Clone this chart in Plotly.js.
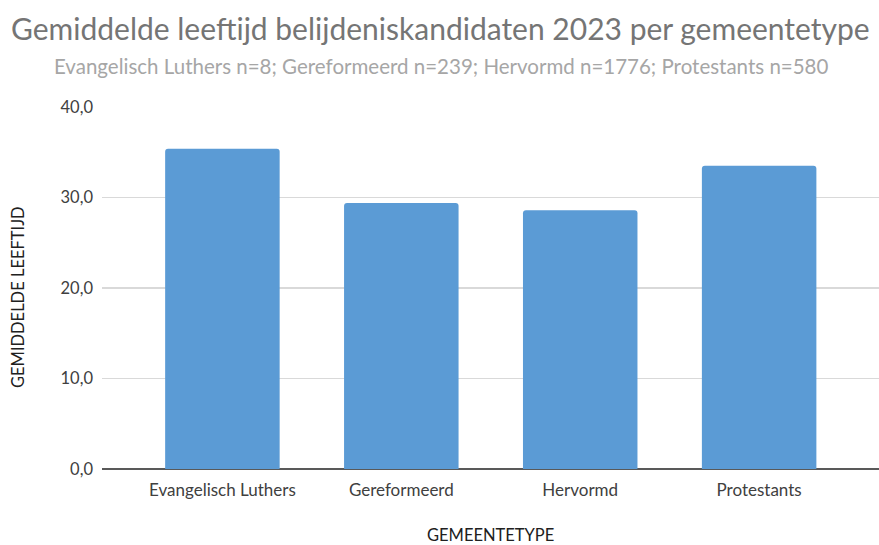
<!DOCTYPE html>
<html>
<head>
<meta charset="utf-8">
<script src="https://cdn.plot.ly/plotly-3.0.1.min.js"></script>
<style>html,body{margin:0;padding:0;background:#fff;}#chart{width:879px;height:545px;}</style>
</head>
<body>
<div id="chart"></div>
<script>
const categories = ["Evangelisch Luthers", "Gereformeerd", "Hervormd", "Protestants"];
const meanAge = [35.4, 29.4, 28.6, 33.5];
const yTicks = [0, 10, 20, 30, 40];
const titleText = "Gemiddelde leeftijd belijdeniskandidaten 2023 per gemeentetype";
const subtitleText = "Evangelisch Luthers n=8; Gereformeerd n=239; Hervormd n=1776; Protestants n=580";
const xTitle = "GEMEENTETYPE";
const yTitle = "GEMIDDELDE LEEFTIJD";

const FONT = "Lato, 'Open Sans', sans-serif";

const trace = {
  type: "bar",
  x: [0, 1, 2, 3],
  y: meanAge,
  width: 0.64,
  marker: {color: "#5b9bd5", cornerradius: 3, line: {width: 0}},
  hoverinfo: "skip"
};

const layout = {
  width: 879, height: 545,
  margin: {l: 102, r: 0, t: 107, b: 76, pad: 0},
  paper_bgcolor: "#ffffff",
  plot_bgcolor: "#ffffff",
  separators: ",.",
  showlegend: false,
  font: {family: FONT, color: "#404040"},
  xaxis: {
    range: [-0.673, 3.67],
    tickmode: "array",
    tickvals: [0, 1, 2, 3],
    ticktext: categories,
    showgrid: false,
    zeroline: false,
    showline: false,
    ticks: "",
    ticklabelstandoff: 9,
    tickfont: {family: FONT, size: 17, color: "#404040"},
    fixedrange: true
  },
  yaxis: {
    range: [0, 40],
    tickmode: "array",
    tickvals: yTicks,
    tickformat: ".1f",
    showgrid: true,
    gridcolor: "#d9d9d9",
    gridwidth: 1.3,
    zeroline: true,
    zerolinecolor: "#595959",
    zerolinewidth: 1.5,
    showline: false,
    ticks: "",
    ticklabelstandoff: 8,
    tickfont: {family: FONT, size: 16.5, color: "#404040"},
    fixedrange: true
  },
  annotations: [
    {text: titleText, xref: "paper", yref: "paper", x: 0.385, y: 1,
     xanchor: "center", yanchor: "middle", yshift: 0, showarrow: false,
     font: {family: FONT, size: 30, color: "#757575"}},
    {text: subtitleText, xref: "paper", yref: "paper", x: 0.385, y: 1,
     xanchor: "center", yanchor: "middle", showarrow: false,
     font: {family: FONT, size: 20.5, color: "#a6a6a6"}},
    {text: xTitle, xref: "paper", yref: "paper", x: 0.5, y: 0,
     xanchor: "center", yanchor: "middle", showarrow: false,
     font: {family: FONT, size: 16.5, color: "#202020"}},
    {text: yTitle, xref: "paper", yref: "paper", x: 0, y: 0.5, textangle: -90,
     xanchor: "center", yanchor: "middle", showarrow: false,
     font: {family: FONT, size: 16.5, color: "#202020"}}
  ],
  bargap: 0.36
};

// position annotations in pixel terms relative to the plot area
const plotH = 545 - 107 - 76, plotW = 879 - 102;
layout.annotations[0].x = (440 - 102) / plotW; layout.annotations[0].y = 1 + (107 - 28) / plotH;
layout.annotations[1].x = (441 - 102) / plotW; layout.annotations[1].y = 1 + (107 - 66) / plotH;
layout.annotations[2].x = (490 - 102) / plotW; layout.annotations[2].y = -(535 - 469) / plotH;
layout.annotations[3].x = -(102 - 18) / plotW; layout.annotations[3].y = (469 - 297) / plotH;

Plotly.newPlot("chart", [trace], layout, {displayModeBar: false, staticPlot: true});
</script>
</body>
</html>
